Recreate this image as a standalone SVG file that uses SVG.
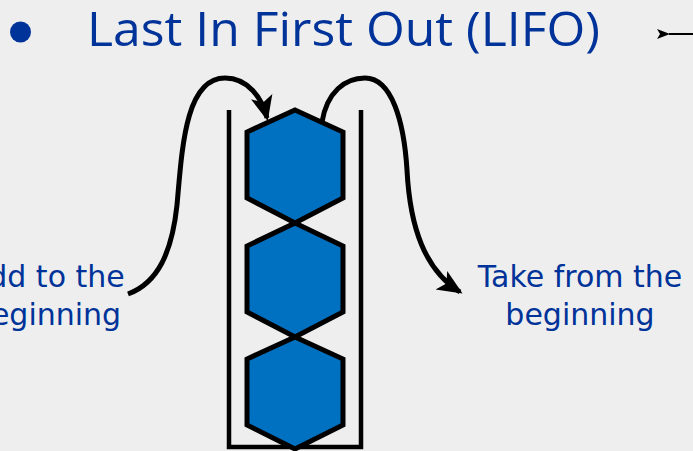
<svg xmlns="http://www.w3.org/2000/svg" width="693" height="451" viewBox="0 0 693 451">
  <style>
    .title { font-family: "Open Sans", "Liberation Sans", sans-serif; font-size: 48px; fill: #003399; }
    .label { font-family: "DejaVu Sans", Verdana, sans-serif; font-size: 30px; fill: #003399; text-anchor: middle; }
    .hex { fill: #0070C0; stroke: #000; stroke-width: 5; stroke-linejoin: miter; }
    .wall { fill: none; stroke: #000; stroke-width: 4.5; }
    .conn { fill: none; stroke: #000; stroke-width: 5; }
  </style>
  <defs>
    <marker id="ah" markerUnits="userSpaceOnUse" markerWidth="28" markerHeight="28" viewBox="0 0 28 28" refX="22" refY="14" orient="auto">
      <path d="M0,3 L25,14 L0,25 L6,14 Z" fill="#000"/>
    </marker>
    <marker id="ahs" markerUnits="userSpaceOnUse" markerWidth="16" markerHeight="12" viewBox="0 0 16 12" refX="1" refY="6" orient="auto-start-reverse">
      <path d="M0,6 L13,1 L10,6 L13,11 Z" fill="#000"/>
    </marker>
  </defs>
  <rect width="693" height="451" fill="#EEEEEE"/>

  <g id="title">
    <circle cx="20.5" cy="32" r="10.5" fill="#003399"/>
    <text class="title" x="87" y="46" textLength="513" lengthAdjust="spacingAndGlyphs">Last In First Out (LIFO)</text>
  </g>

  <g id="stack">
    <path class="wall" d="M229,110 V447 H361 V110"/>
  </g>

  <g id="item3">
    <polygon class="hex" points="295,337 343,359 343,425 295,449 247,425 247,359"/>
  </g>
  <g id="item2">
    <polygon class="hex" points="295,223 343,246 343,312 295,337 247,312 247,246"/>
  </g>
  <g id="item1">
    <polygon class="hex" points="295,110 343,132 343,198 295,223 247,198 247,132"/>
  </g>

  <g id="label-add">
    <text class="label" x="46.5" y="287">Add to the</text>
    <text class="label" x="46.5" y="325">beginning</text>
  </g>
  <g id="label-take">
    <text class="label" x="580" y="287">Take from the</text>
    <text class="label" x="580" y="325">beginning</text>
  </g>

  <g id="connectors">
    <path class="conn" marker-end="url(#ah)" d="M128,294 C158,283 172,252 177,205 C182,150 185,78 225,78 C248,78 262,98 267,118"/>
    <path class="conn" marker-end="url(#ah)" d="M322,122 C327,92 345,78 365,78 C392,78 404,122 407,170 C410,228 425,270 460,292"/>
    <path fill="none" stroke="#000" stroke-width="2" marker-start="url(#ahs)" d="M669,34 H693"/>
  </g>
</svg>
